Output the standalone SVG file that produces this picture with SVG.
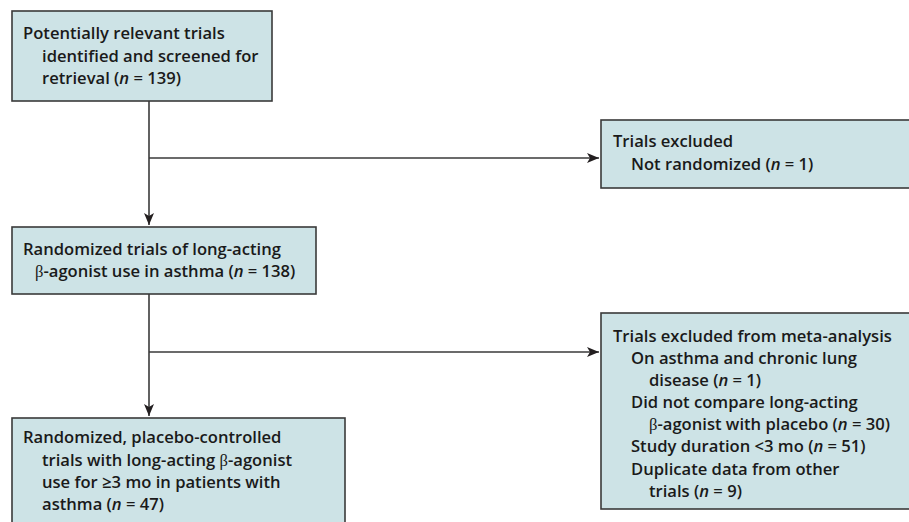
<svg xmlns="http://www.w3.org/2000/svg" width="909" height="522" viewBox="0 0 909 522">
<defs>
<marker id="arr" markerUnits="userSpaceOnUse" markerWidth="14" markerHeight="12" refX="12" refY="5" orient="auto">
<path d="M0,0 L12,5 L0,10 L3,5 Z" fill="#231f20"/>
</marker>
<style>
.box{fill:#cde3e6;stroke:#3a3a3a;stroke-width:1.6}
.t{font-family:"Open Sans","DejaVu Sans",sans-serif;font-weight:600;font-size:16.6px;fill:#1a1a1a}
.b{font-family:"Liberation Serif",serif;font-weight:normal}
.c{fill:none;stroke:#3a3a3a;stroke-width:1.6}
</style>
</defs>
<rect width="909" height="522" fill="#ffffff"/>
<g id="connectors">
<path class="c" d="M149,101 V225" marker-end="url(#arr)"/>
<path class="c" d="M149,158 H599" marker-end="url(#arr)"/>
<path class="c" d="M149,294 V416" marker-end="url(#arr)"/>
<path class="c" d="M149,352 H599" marker-end="url(#arr)"/>
</g>
<g id="n1">
<rect class="box" x="12" y="11" width="260" height="90"/>
<text class="t"><tspan x="23" y="39">Potentially relevant trials</tspan><tspan x="42" y="62">identified and screened for</tspan><tspan x="42" y="84">retrieval (<tspan font-style="italic">n</tspan> = 139)</tspan></text>
</g>
<g id="n2">
<rect class="box" x="601" y="120" width="312" height="68"/>
<text class="t"><tspan x="613" y="147">Trials excluded</tspan><tspan x="631" y="170">Not randomized (<tspan font-style="italic">n</tspan> = 1)</tspan></text>
</g>
<g id="n3">
<rect class="box" x="12" y="227" width="304" height="67"/>
<text class="t"><tspan x="23" y="255">Randomized trials of long-acting</tspan><tspan x="35" y="277"><tspan class="b">β</tspan>-agonist use in asthma (<tspan font-style="italic">n</tspan> = 138)</tspan></text>
</g>
<g id="n4">
<rect class="box" x="601" y="313" width="312" height="196"/>
<text class="t"><tspan x="613" y="342">Trials excluded from meta-analysis</tspan><tspan x="631" y="364">On asthma and chronic lung</tspan><tspan x="649" y="386">disease (<tspan font-style="italic">n</tspan> = 1)</tspan><tspan x="631" y="408">Did not compare long-acting</tspan><tspan x="649" y="430"><tspan class="b">β</tspan>-agonist with placebo (<tspan font-style="italic">n</tspan> = 30)</tspan><tspan x="631" y="452">Study duration &lt;3 mo (<tspan font-style="italic">n</tspan> = 51)</tspan><tspan x="631" y="475">Duplicate data from other</tspan><tspan x="649" y="497">trials (<tspan font-style="italic">n</tspan> = 9)</tspan></text>
</g>
<g id="n5">
<rect class="box" x="12" y="418" width="333" height="110"/>
<text class="t"><tspan x="23" y="443">Randomized, placebo-controlled</tspan><tspan x="42" y="466">trials with long-acting <tspan class="b">β</tspan>-agonist</tspan><tspan x="42" y="488">use for ≥3 mo in patients with</tspan><tspan x="42" y="510">asthma (<tspan font-style="italic">n</tspan> = 47)</tspan></text>
</g>
</svg>
